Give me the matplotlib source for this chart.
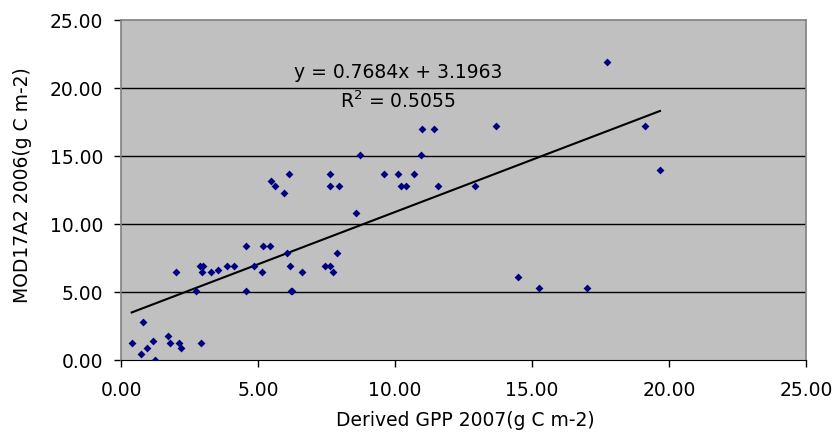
import matplotlib
matplotlib.use("Agg")
from matplotlib import pyplot as plt
import numpy as np

plt.rcParams['font.family'] = ['DejaVu Sans']

# Derived GPP 2007 vs MOD17A2 2006 (g C m-2)
gpp_2007 = [0.39, 0.73, 0.80, 0.96, 1.18, 1.25, 1.73, 1.79, 2.00, 2.13,
            2.19, 2.73, 2.87, 3.00, 2.96, 2.92, 3.28, 3.55, 3.86, 4.14,
            4.55, 4.57, 4.85, 5.15, 5.17, 5.45, 5.46, 5.63, 5.96, 6.06,
            6.14, 6.17, 6.20, 6.25, 6.60, 7.45, 7.64, 7.72, 7.62, 7.62,
            7.96, 7.88, 8.58, 8.71, 9.60, 10.10, 10.23, 10.41, 10.68, 10.94,
            10.99, 11.43, 11.58, 12.93, 13.70, 14.49, 15.27, 17.00, 17.74, 19.14,
            19.67]
mod17_2006 = [1.27, 0.46, 2.79, 0.88, 1.40, 0.00, 1.79, 1.27, 6.47, 1.27,
              0.88, 5.07, 6.89, 6.89, 6.47, 1.27, 6.47, 6.59, 6.89, 6.89,
              8.38, 5.07, 6.89, 6.47, 8.38, 8.38, 13.18, 12.79, 12.28, 7.89,
              13.68, 6.89, 5.07, 5.07, 6.49, 6.89, 6.89, 6.49, 13.68, 12.79,
              12.79, 7.89, 10.78, 15.07, 13.68, 13.68, 12.79, 12.79, 13.68, 15.10,
              16.99, 16.99, 12.79, 12.79, 17.20, 6.10, 5.29, 5.29, 21.89, 17.18,
              13.99]
slope = 0.7684
intercept = 3.1963
ticks = [0, 5, 10, 15, 20, 25]

fig = plt.figure(figsize=(8.39, 4.37), dpi=100)
ax = fig.add_axes([121 / 839, 1 - 360 / 437, (806 - 121) / 839, (360 - 20) / 437])
ax.set_facecolor("#C0C0C0")

for t in ticks[1:-1]:
    ax.axhline(t, color="black", linewidth=1, zorder=1)

ax.scatter(gpp_2007, mod17_2006, marker="D", s=16, color="#000080", zorder=3, linewidths=0)

xs = np.array([min(gpp_2007), max(gpp_2007)])
ax.plot(xs, slope * xs + intercept, color="black", linewidth=1.5, zorder=2)

fig.text(398 / 839, 1 - 73 / 437, "y = 0.7684x + 3.1963", fontsize=13.5,
         ha="center", va="center")
fig.text(398 / 839, 1 - 101 / 437, "R$^2$ = 0.5055", fontsize=13.5,
         ha="center", va="center")

ax.set_xlim(0, 25)
ax.set_ylim(0, 25)
ax.set_xticks(ticks)
ax.set_yticks(ticks)
ax.set_xticklabels(["%.2f" % t for t in ticks], fontsize=13.5)
ax.set_yticklabels(["%.2f" % t for t in ticks], fontsize=13.5)
ax.tick_params(direction="out", length=5, width=1, color="black")
ax.tick_params(axis="x", pad=10)
ax.tick_params(axis="y", pad=8)

for side in ["left", "right", "top"]:
    ax.spines[side].set_color("#808080")
    ax.spines[side].set_linewidth(1.2)
ax.spines["bottom"].set_color("black")

ax.set_xlabel("Derived GPP 2007(g C m-2)", fontsize=13.5)
ax.set_ylabel("MOD17A2 2006(g C m-2)", fontsize=13.5)
ax.xaxis.set_label_coords(0.502, -0.15)
ax.yaxis.set_label_coords(-0.13, 0.515)

fig.savefig("out.png", dpi=100)
